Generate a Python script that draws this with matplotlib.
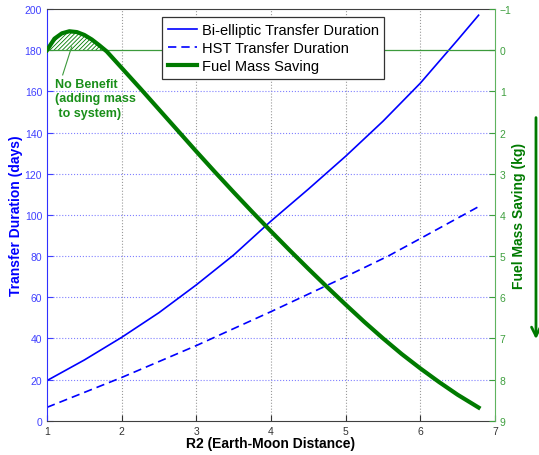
import numpy as np
import matplotlib
matplotlib.use("Agg")
import matplotlib.pyplot as plt

plt.rcParams['font.family'] = ['Liberation Sans', 'DejaVu Sans']
plt.rcParams['hatch.linewidth'] = 0.6

# R2 positions and durations (days)
r2_bi = [1.0, 1.5, 2.0, 2.5, 3.0, 3.5, 4.0, 4.5, 5.0, 5.5, 6.0, 6.5, 6.78]
bi_days = [19.5, 29.5, 40.5, 52.5, 66.0, 80.5, 97.0, 112.5, 128.5, 145.5, 164.0, 185.0, 197.0]

r2_hst = [1.0, 2.0, 3.0, 4.0, 5.0, 5.57, 6.0, 6.78]
hst_days = [6.5, 21.0, 36.5, 53.0, 70.0, 80.0, 88.5, 104.0]

# fuel mass saving (kg), right axis is inverted
r2_fuel = [1.0, 1.1, 1.2, 1.3, 1.4, 1.5, 1.6, 1.7, 1.8, 2.0, 2.25, 2.5, 2.75,
           3.0, 3.25, 3.5, 3.75, 4.0, 4.25, 4.5, 4.75, 5.0, 5.25, 5.5, 5.75,
           6.0, 6.25, 6.5, 6.78]
fuel_kg = [0.0, -0.28, -0.41, -0.46, -0.44, -0.37, -0.26, -0.12, 0.03, 0.43,
           0.93, 1.44, 1.95, 2.46, 2.96, 3.45, 3.93, 4.40, 4.86, 5.31, 5.75,
           6.18, 6.60, 7.00, 7.38, 7.73, 8.06, 8.37, 8.68]

blue = '#0000ff'
green = '#007a00'
tick_blue = '#4040ff'
tick_green = '#3f9f3f'

fig = plt.figure(figsize=(5.39, 4.56), dpi=100)
ax = fig.add_axes([0.0872, 0.0752, 0.8312, 0.9028])
ax2 = ax.twinx()

l1, = ax.plot(r2_bi, bi_days, color=blue, lw=1.2)
l2, = ax.plot(r2_hst, hst_days, color=blue, lw=1.2, linestyle=(0, (5, 3)))

ax.set_xlim(1, 7)
ax.set_ylim(0, 200)
ax.set_xticks(range(1, 8))
ax.set_yticks(range(0, 201, 20))

# grid
for x in range(2, 7):
    ax.axvline(x, color='#9a9a9a', lw=0.8, linestyle=':', zorder=0)
for y in range(20, 180, 20):
    ax.axhline(y, color='#8080ff', lw=0.8, linestyle=':', zorder=0)

ax.tick_params(axis='y', colors=tick_blue, labelsize=7.5, direction='in', length=4)
ax.tick_params(axis='x', colors='#333333', labelsize=7.5, direction='in', length=4)
ax.spines['left'].set_color('#3030ff')
ax.spines['top'].set_color('#404040')
ax.spines['bottom'].set_color('#404040')
ax.spines['right'].set_visible(False)

ax.set_xlabel('R2 (Earth-Moon Distance)', fontsize=10, fontweight='bold')
ax.xaxis.set_label_coords(0.5, -0.038)
ax.set_ylabel('Transfer Duration (days)', fontsize=10, fontweight='bold', color=blue)
ax.yaxis.set_label_coords(-0.054, 0.5)

# right axis: fuel saving
fuel = np.array(fuel_kg)
ax2.axhline(0, color='#3c9a3c', lw=0.9)
ax2.fill_between(r2_fuel, fuel, 0, where=fuel <= 0, interpolate=True,
                 facecolor='none', edgecolor=green, hatch='////////', linewidth=0)
l3, = ax2.plot(r2_fuel, fuel_kg, color=green, lw=3)
ax2.set_ylim(9, -1)
ax2.set_yticks(range(-1, 10))
ax2.tick_params(axis='y', colors=tick_green, labelsize=7.5, direction='in', length=4)
ax2.spines['right'].set_color('#5fb35f')
for s in ['left', 'top', 'bottom']:
    ax2.spines[s].set_visible(False)
ax2.set_ylabel('Fuel Mass Saving (kg)', fontsize=10, fontweight='bold', color=green)
ax2.yaxis.set_label_coords(1.037, 0.5)

# note on the region with no benefit
ax2.text(1.107, 0.68, 'No Benefit\n(adding mass\n to system)', color='#1a8f1a',
         fontsize=9, fontweight='bold', va='top', ha='left', linespacing=1.25)
ax2.plot([1.21, 1.33], [0.60, -0.08], color='#3c9a3c', lw=0.8)

leg = ax2.legend([l1, l2, l3],
                 ['Bi-elliptic Transfer Duration', 'HST Transfer Duration', 'Fuel Mass Saving'],
                 loc='upper left', bbox_to_anchor=(0.257, 0.981), borderaxespad=0,
                 fontsize=10.5, fancybox=False, framealpha=1, edgecolor='#333333',
                 handlelength=2.0, handletextpad=0.3, labelspacing=0.28, borderpad=0.4)
leg.get_frame().set_linewidth(0.9)

# arrow beside the right label
ax2.annotate('', xy=(0.9944, 0.248), xycoords='figure fraction',
             xytext=(0.9944, 0.746), textcoords='figure fraction',
             arrowprops=dict(arrowstyle='->', color=green, lw=2, mutation_scale=16),
             annotation_clip=False)

fig.savefig('out.png', dpi=100)
